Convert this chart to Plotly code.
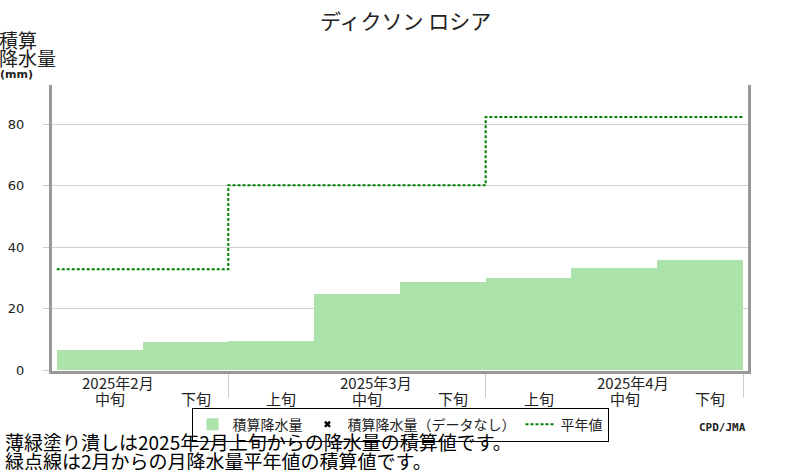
import plotly.graph_objects as go

# 旬ごとの積算降水量 (mm)
dekads = ["中旬", "下旬", "上旬", "中旬", "下旬", "上旬", "中旬", "下旬"]
accum_precip = [6.7, 9.0, 9.5, 24.8, 28.6, 29.9, 33.1, 35.7]

# 月ごとの平年値の積算 (mm)
months = ["2025年2月", "2025年3月", "2025年4月"]
month_mid = [0, 3, 6]          # 各月の中旬の位置
month_edges = [0, 2, 5, 8]     # 月の境界 (旬の番号)
normal_accum = [32.8, 60.2, 82.4]

notes = ["薄緑塗り潰しは2025年2月上旬からの降水量の積算値です。",
         "緑点線は2月からの月降水量平年値の積算値です。"]

font = "Noto Sans CJK JP"
bar_color = "#abe3ab"

fig = go.Figure()

fig.add_trace(go.Bar(
    x=[i + 0.5 for i in range(len(accum_precip))], y=accum_precip, width=1,
    marker=dict(color=bar_color, line=dict(width=0)),
    name="積算降水量",
))
fig.add_trace(go.Scatter(
    x=[None], y=[None], mode="markers",
    marker=dict(symbol="x", size=6, color="black"),
    name="積算降水量（データなし）",
))
fig.add_trace(go.Scatter(
    x=month_edges, y=normal_accum + [normal_accum[-1]],
    mode="lines", line=dict(shape="hv", color="#008000", width=2, dash="3px,2px"),
    name="平年値",
))
# right frame line
fig.add_trace(go.Scatter(x=[None], y=[None], yaxis="y2", showlegend=False))

ann = []
for i, d in enumerate(dekads):
    ann.append(dict(x=i + 0.62, y=0, xref="x", yref="paper", text=d,
                    showarrow=False, yanchor="middle", yshift=-27,
                    font=dict(family=font, size=15, color="#222")))
for m, k in zip(months, month_mid):
    ann.append(dict(x=k + 0.72, y=0, xref="x", yref="paper", text=m,
                    showarrow=False, yanchor="middle", yshift=-11,
                    font=dict(family=font, size=15, color="#222")))

# y軸タイトル
for txt, dy in [("積算", 46), ("降水量", 28)]:
    ann.append(dict(x=0, y=1, xref="paper", yref="paper", xanchor="left", yanchor="middle",
                    xshift=-55, yshift=dy, text=txt, showarrow=False,
                    font=dict(family=font, size=19, color="#222")))
ann.append(dict(x=0, y=1, xref="paper", yref="paper", xanchor="left", yanchor="middle",
                xshift=-54, yshift=11, text="<b>(mm)</b>", showarrow=False,
                font=dict(family="DejaVu Sans", size=11, color="#222")))

ann.append(dict(x=1, y=0, xref="paper", yref="paper", xanchor="right", yanchor="middle",
                yshift=-56, text="<b>CPD/JMA</b>", showarrow=False,
                font=dict(family="DejaVu Sans Mono", size=11, color="#222")))

for txt, dy in zip(notes, [-70, -89]):
    ann.append(dict(x=0, y=0, xref="paper", yref="paper", xanchor="left", yanchor="middle",
                    xshift=-49, yshift=dy, text=txt, showarrow=False,
                    font=dict(family=font, size=19, color="black")))

fig.update_layout(
    width=800, height=470,
    margin=dict(l=52, r=52, t=85, b=99),
    paper_bgcolor="white", plot_bgcolor="white",
    bargap=0,
    title=dict(text="ディクソン ロシア", x=0.507, xanchor="center", y=0.953, yanchor="middle",
               font=dict(family=font, size=21, color="#222")),
    xaxis=dict(range=[-0.055, 8.058], tickvals=month_edges[1:], showticklabels=False,
               ticks="outside", ticklen=24, tickcolor="#cccccc", tickwidth=1,
               showgrid=False, zeroline=False, showline=True, linecolor="#999999",
               linewidth=3),
    yaxis=dict(range=[-0.3, 92.8], tickvals=[0, 20, 40, 60, 80], ticks="outside",
               ticklen=6, tickcolor="#cccccc", showgrid=True, gridcolor="#d0d0d0",
               zeroline=False, showline=True, linecolor="#999999", linewidth=3,
               ticklabelstandoff=16, automargin=False,
               tickfont=dict(family="DejaVu Sans", size=13, color="#222")),
    yaxis2=dict(range=[-0.3, 92.8], overlaying="y", side="right", showline=True,
                linecolor="#999999", linewidth=3, showgrid=False, zeroline=False,
                showticklabels=False, ticks=""),
    legend=dict(orientation="h", x=0.5, xanchor="center", y=-0.128, yanchor="top",
                bordercolor="black", borderwidth=1, bgcolor="white",
                itemwidth=30, tracegroupgap=0,
                font=dict(family=font, size=14, color="#222")),
    annotations=ann,
    showlegend=True,
)

fig.write_html("out.html", config={"displayModeBar": False},
               post_script="document.body.style.margin='0';")
